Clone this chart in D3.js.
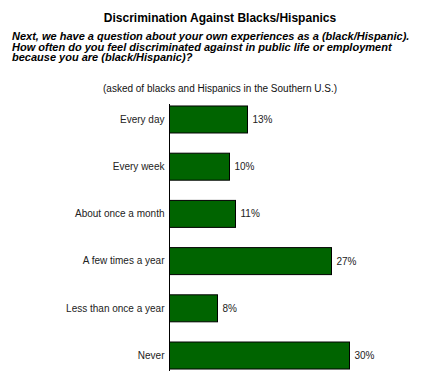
<!DOCTYPE html>
<html><head><meta charset="utf-8">
<script src="https://cdn.jsdelivr.net/npm/d3@7"></script>
<style>body{margin:0;background:#fff}svg{display:block}text{font-family:"Liberation Sans",Arial,sans-serif}</style>
</head><body>
<div id="chart"></div>
<script>
const categories = ["Every day","Every week","About once a month","A few times a year","Less than once a year","Never"];
const values = [13,10,11,27,8,30];
const title = "Discrimination Against Blacks/Hispanics";
const question = ["Next, we have a question about your own experiences as a (black/Hispanic).",
  "How often do you feel discriminated against in public life or employment",
  "because you are (black/Hispanic)?"];
const note = "(asked of blacks and Hispanics in the Southern U.S.)";

const W = 440, H = 380;
const svg = d3.select("#chart").append("svg").attr("width", W).attr("height", H);

svg.append("text").attr("x", 220).attr("y", 22).attr("text-anchor","middle")
  .attr("font-size", 12).attr("font-weight","bold").attr("fill","#000").text(title);

svg.append("g").selectAll("text").data(question).join("text")
  .attr("x", 12).attr("y", (d,i)=>40 + i*10.7)
  .attr("font-size", 11).attr("font-weight","bold").attr("font-style","italic").attr("fill","#000")
  .text(d=>d);

svg.append("text").attr("x", 220).attr("y", 92).attr("text-anchor","middle")
  .attr("font-size", 10).attr("fill","#111").text(note);

const x = d3.scaleLinear().domain([0, 30]).range([169.5, 349.5]);
const y = d3.scaleBand().domain(categories).range([104, 371]).paddingInner(0.428).paddingOuter(0.042);

const g = svg.append("g");
g.selectAll("rect").data(values).join("rect")
  .attr("x", x(0)).attr("y", (d,i)=>y(categories[i]))
  .attr("width", d=>x(d)-x(0)).attr("height", y.bandwidth())
  .attr("fill","#006400").attr("stroke","#000").attr("stroke-width",1);

g.selectAll("text.val").data(values).join("text").attr("class","val")
  .attr("x", d=>x(d)+5).attr("y", (d,i)=>y(categories[i]) + y.bandwidth()/2)
  .attr("dy","0.35em").attr("font-size",10).attr("fill","#222").text(d=>d+"%");

const axis = d3.axisLeft(y).tickSize(0).tickPadding(5);
const ag = svg.append("g").attr("transform", `translate(${x(0)},0)`).call(axis);
ag.select(".domain").attr("stroke","#000").attr("d", "M0,104V371");
ag.selectAll("text").attr("font-size",10).attr("fill","#222").attr("font-family",'"Liberation Sans",Arial,sans-serif');
</script>
</body></html>
